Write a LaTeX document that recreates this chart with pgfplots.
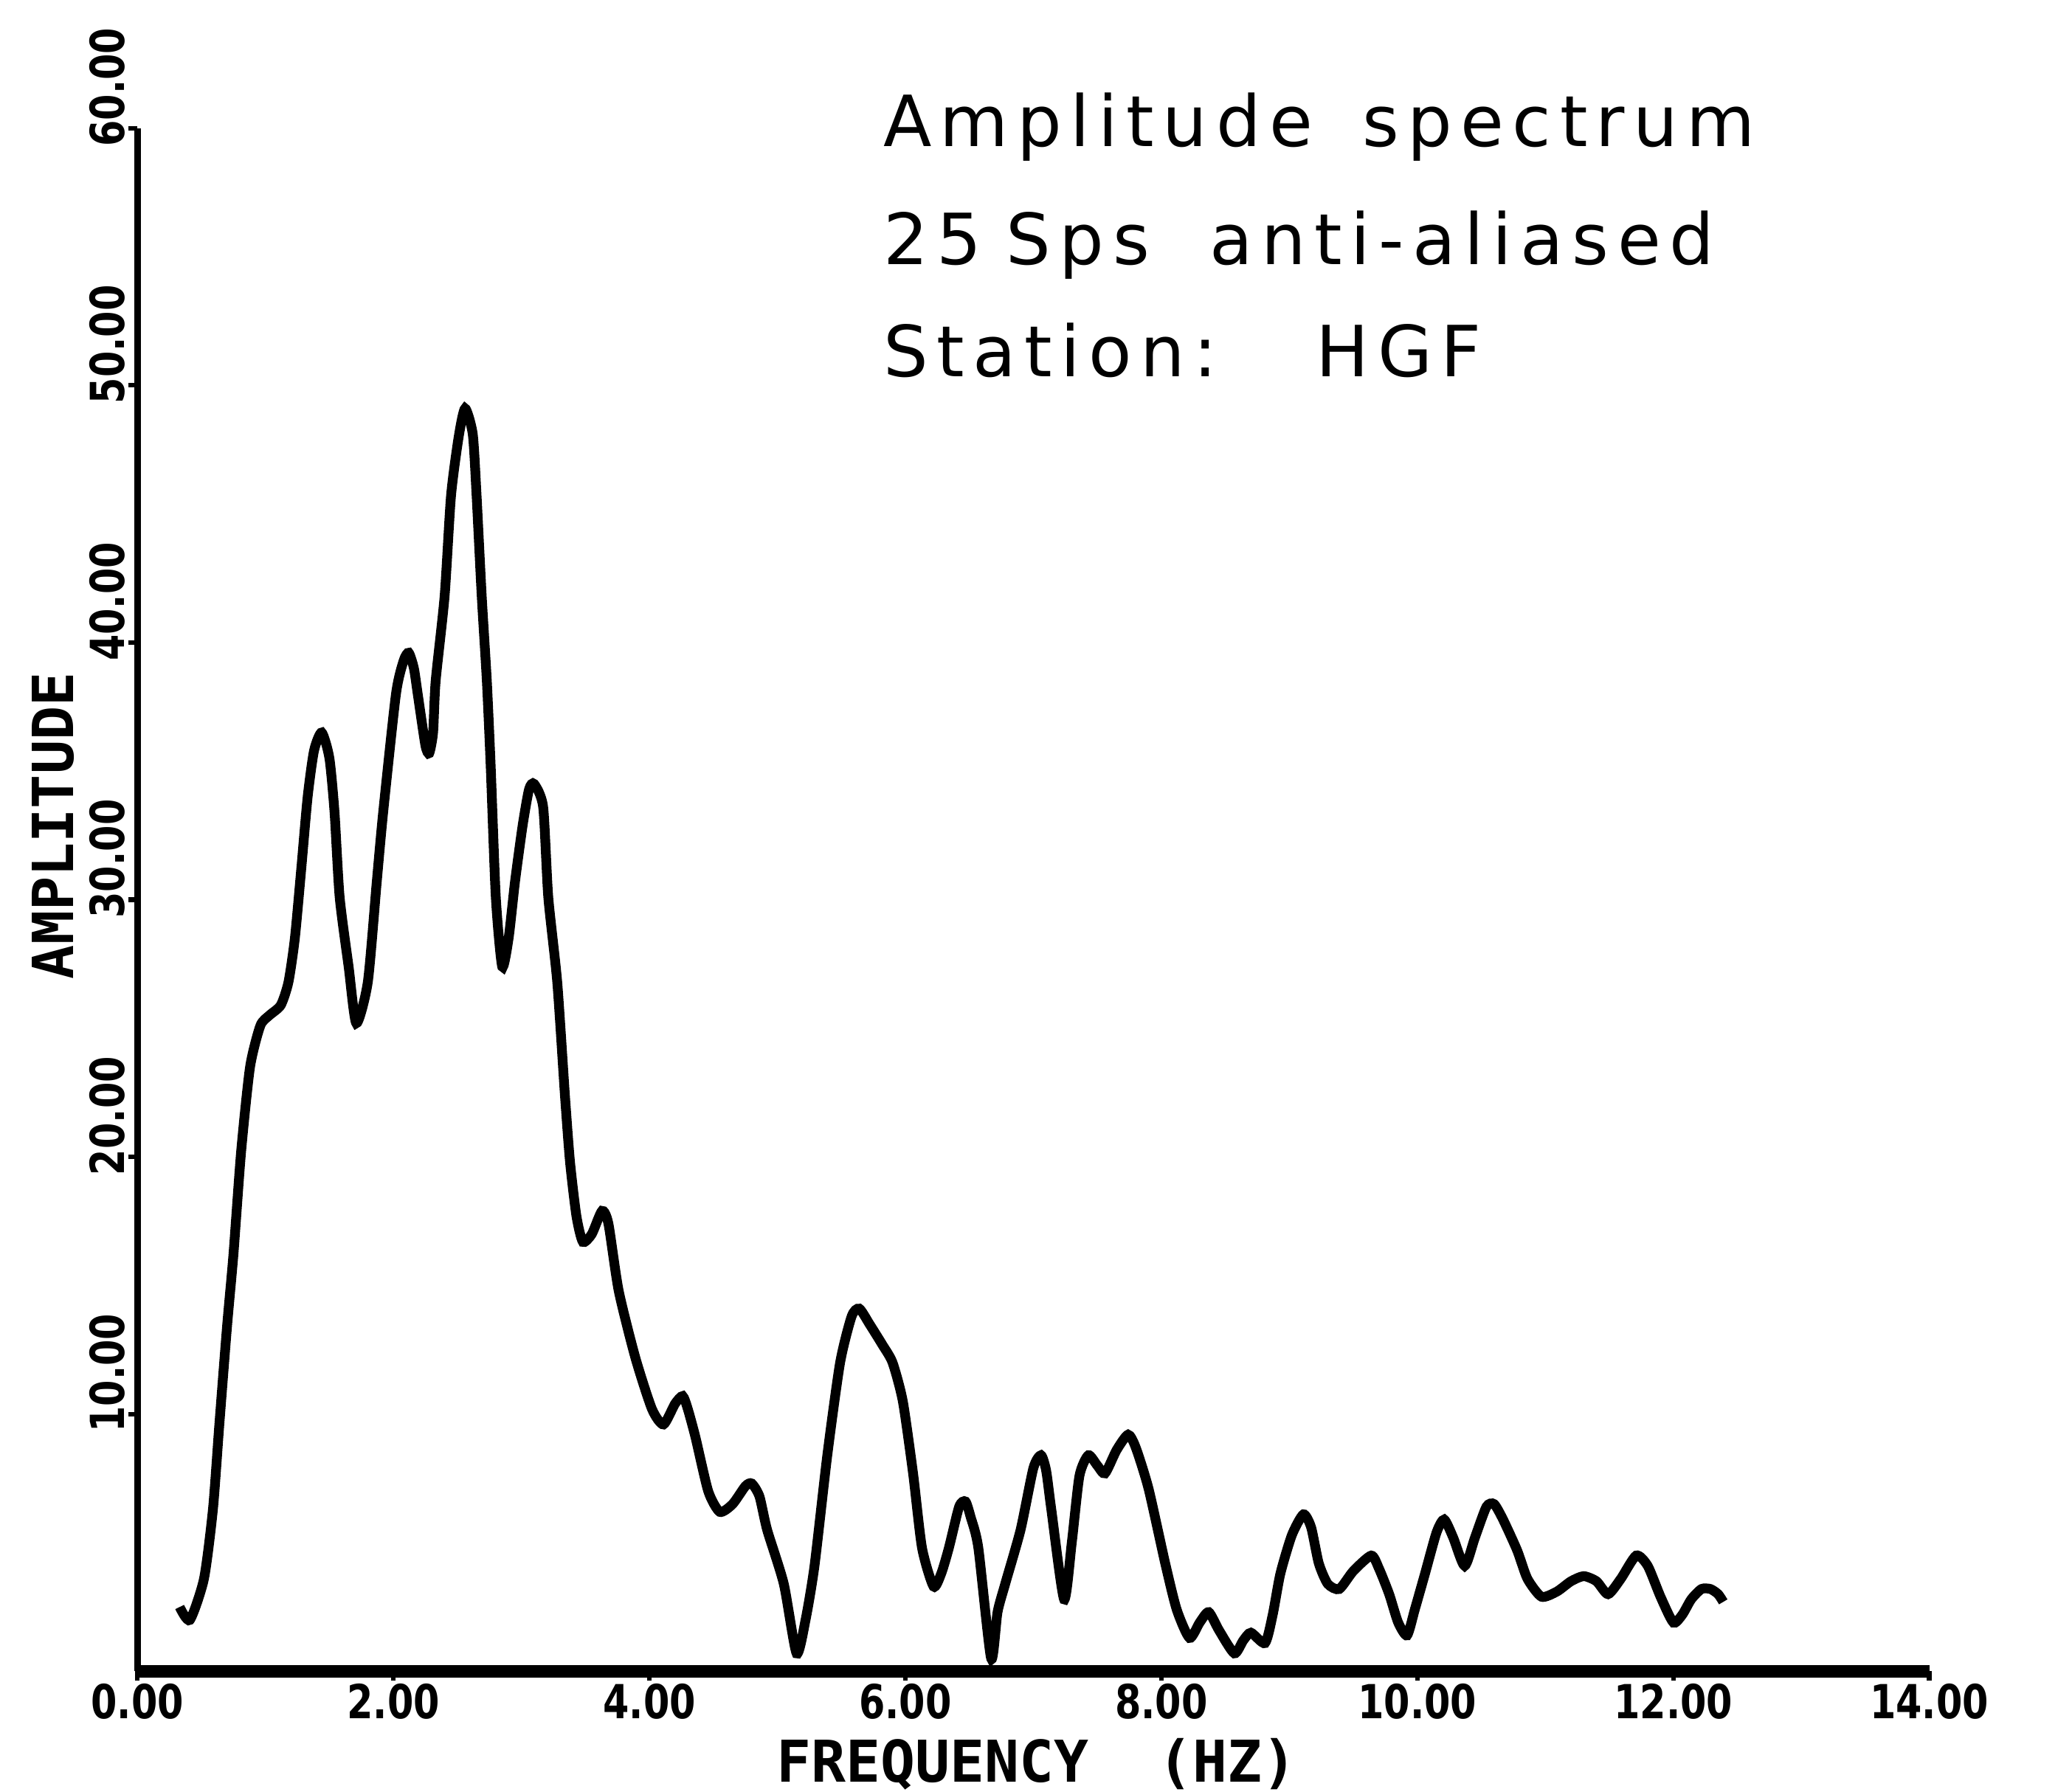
\documentclass[border=0pt]{standalone}
\usepackage{fontspec}
\setmainfont{DejaVu Sans}
\newfontfamily\titlefont[LetterSpace=12]{DejaVu Sans}
\newfontfamily\tickfont[FakeStretch=0.8]{DejaVu Sans}
\newfontfamily\labelfont{DejaVu Sans Mono}
\usepackage{pgfplots}
\pgfplotsset{compat=1.18}
\pgfplotstableread{
x y
0.33 2.5
0.41 2.0
0.52 3.6
0.59 6.3
0.64 9.6
0.70 13.4
0.75 16.2
0.81 20.2
0.88 23.5
0.96 25.1
1.03 25.5
1.12 25.9
1.18 26.8
1.23 28.5
1.28 31.2
1.33 34.0
1.38 35.8
1.44 36.5
1.50 35.5
1.54 33.4
1.58 30.1
1.65 27.4
1.71 25.2
1.80 26.8
1.87 30.7
1.92 33.4
2.02 38.0
2.08 39.3
2.12 39.6
2.16 39.0
2.19 38.0
2.25 36.0
2.28 35.7
2.31 36.5
2.33 38.5
2.40 41.8
2.45 45.7
2.51 48.0
2.56 49.1
2.62 48.1
2.65 45.7
2.69 41.8
2.73 38.5
2.76 35.2
2.80 30.1
2.85 27.4
2.90 28.5
2.95 30.7
3.01 32.9
3.06 34.3
3.10 34.5
3.17 33.6
3.21 30.1
3.28 26.8
3.34 22.4
3.38 19.8
3.43 17.7
3.48 16.7
3.55 17.0
3.63 17.9
3.68 17.4
3.76 14.8
3.89 12.2
4.02 10.2
4.11 9.6
4.20 10.4
4.26 10.7
4.30 10.2
4.36 9.1
4.46 7.0
4.55 6.2
4.65 6.5
4.75 7.2
4.80 7.3
4.86 6.8
4.92 5.5
5.05 3.4
5.15 0.7
5.22 2.0
5.29 4.1
5.39 8.4
5.49 12.0
5.58 13.8
5.64 14.1
5.72 13.5
5.82 12.7
5.90 12.0
5.98 10.5
6.06 7.7
6.13 4.8
6.22 3.3
6.28 3.8
6.34 4.8
6.42 6.4
6.47 6.6
6.51 6.0
6.57 4.8
6.67 0.5
6.72 2.3
6.78 3.4
6.90 5.5
7.00 7.9
7.06 8.4
7.10 7.8
7.14 6.3
7.24 2.8
7.30 5.0
7.36 7.6
7.43 8.4
7.50 8.0
7.56 7.7
7.65 8.6
7.74 9.2
7.80 8.7
7.90 7.1
8.03 4.2
8.12 2.4
8.22 1.3
8.30 1.9
8.37 2.3
8.45 1.6
8.57 0.7
8.64 1.2
8.70 1.5
8.81 1.1
8.87 2.2
8.93 3.8
9.02 5.3
9.11 6.1
9.17 5.6
9.23 4.2
9.30 3.4
9.39 3.2
9.50 3.9
9.64 4.5
9.70 4.0
9.78 3.0
9.85 1.9
9.92 1.4
9.98 2.4
10.06 3.8
10.15 5.4
10.21 5.9
10.28 5.2
10.37 4.1
10.45 5.2
10.54 6.4
10.60 6.5
10.67 5.9
10.78 4.7
10.86 3.6
10.97 2.9
11.09 3.1
11.20 3.5
11.30 3.7
11.40 3.5
11.49 3.0
11.59 3.6
11.71 4.5
11.80 4.1
11.90 2.9
12.00 1.9
12.07 2.2
12.14 2.8
12.22 3.2
12.29 3.2
12.35 3.0
12.39 2.7
}\spectrum
\begin{document}
\begin{tikzpicture}
\useasboundingbox (-1.04,-0.91) rectangle (14.64,12.65);
\begin{axis}[
  scale only axis, width=13.56cm, height=11.68cm,
  xmin=0, xmax=14, ymin=0, ymax=60,
  axis x line=bottom, axis y line=left,
  axis line style={-},
  x axis line style={line width=2.6pt},
  y axis line style={line width=1.5pt},
  xtick={0,2,4,6,8,10,12,14},
  xticklabels={0.00,2.00,4.00,6.00,8.00,10.00,12.00,14.00},
  ytick={10,20,30,40,50,60},
  yticklabels={10.00,20.00,30.00,40.00,50.00,60.00},
  tick align=outside, major tick length=0.07cm,
  tick style={line width=1pt, black},
  xticklabel shift=-0.1cm,
  yticklabel shift=-0.1cm,
  xticklabel style={font=\tickfont\bfseries\fontsize{10.1}{12}\selectfont},
  yticklabel style={font=\tickfont\bfseries\fontsize{10.1}{12}\selectfont, rotate=90, anchor=south, xshift=0.31cm},
  xlabel={FREQUENCY\ \ (HZ)},
  ylabel={AMPLITUDE},
  xlabel style={at={(axis description cs:0.502,-0.06)}, anchor=center, font=\labelfont\bfseries\fontsize{12.4}{14}\selectfont},
  ylabel style={at={(axis description cs:-0.047,0.548)}, anchor=center, font=\labelfont\bfseries\fontsize{12.2}{14}\selectfont},
  clip=false,
]
\addplot[black, line width=2.1pt, smooth, tension=0.4] table[x=x, y=y] {\spectrum};
\node[anchor=base west, inner sep=0, font=\titlefont\fontsize{15.2}{16}\selectfont] at (axis cs:5.82,59.3) {Amplitude\hspace{0.7em}spectrum};
\node[anchor=base west, inner sep=0, font=\titlefont\fontsize{15.2}{16}\selectfont] at (axis cs:5.82,54.7) {25\hspace{0.35em}Sps\hspace{0.85em}anti-aliased};
\node[anchor=base west, inner sep=0, font=\titlefont\fontsize{15.2}{16}\selectfont] at (axis cs:5.82,50.35) {Station:\hspace{1.4em}HGF};
\end{axis}
\end{tikzpicture}
\end{document}
